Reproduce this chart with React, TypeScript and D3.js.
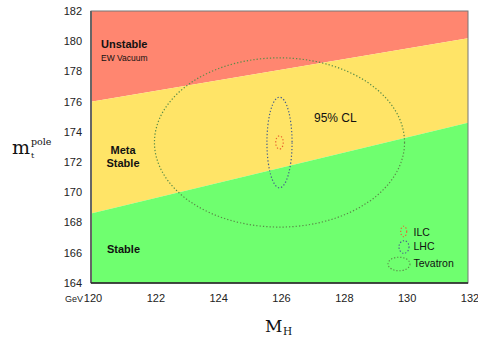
import React from 'react';
import * as d3 from 'd3';

const W = 478;
const H = 339;

// axis ticks
const xTicks = [120, 122, 124, 126, 128, 130, 132];
const yTicks = [164, 166, 168, 170, 172, 174, 176, 178, 180, 182];

// stability boundaries: top mass at MH = 120 and MH = 132
const unstableEdge = [176.0, 180.2];
const stableEdge = [168.6, 174.6];

// measurement ellipses: [MH centre, mt centre, MH half width, mt half height]
const ellipses = [
  { name: 'Tevatron', c: [126.0, 173.3], r: [3.98, 5.6], color: '#5a8c48' },
  { name: 'LHC', c: [126.0, 173.3], r: [0.4, 3.0], color: '#46608c' },
  { name: 'ILC', c: [126.0, 173.3], r: [0.12, 0.44], color: '#e8622e' }
];

const margin = { top: 11, right: 10, bottom: 56, left: 91 };

export default function App() {
  const x = d3.scaleLinear().domain([120, 132]).range([margin.left, W - margin.right]);
  const y = d3.scaleLinear().domain([164, 182]).range([H - margin.bottom, margin.top]);
  const line = d3.line<number[]>().x(d => x(d[0])).y(d => y(d[1]));

  const red = [[120, 182], [132, 182], [132, unstableEdge[1]], [120, unstableEdge[0]]];
  const yellow = [[120, unstableEdge[0]], [132, unstableEdge[1]], [132, stableEdge[1]], [120, stableEdge[0]]];
  const green = [[120, stableEdge[0]], [132, stableEdge[1]], [132, 164], [120, 164]];

  const font = 'Liberation Sans, Arial, sans-serif';
  // legend markers, placed in pixels beside the labels
  const legend = [
    { e: ellipses[2], cx: 403.7, cy: 231.5, rx: 3, ry: 5.3, ty: 232.7 },
    { e: ellipses[1], cx: 404, cy: 247, rx: 5, ry: 6.3, ty: 246.7 },
    { e: ellipses[0], cx: 399, cy: 264, rx: 11, ry: 6.8, ty: 263.7 }
  ];

  return (
    <svg width={W} height={H} style={{ position: 'absolute', left: 0, top: 0 }}>
      <rect width={W} height={H} fill="#fff" />
      <path d={line(red) + 'Z'} fill="#ff8670" />
      <path d={line(yellow) + 'Z'} fill="#ffe467" />
      <path d={line(green) + 'Z'} fill="#6fff6f" />

      {ellipses.map(e => (
        <ellipse key={e.name} cx={x(e.c[0])} cy={y(e.c[1])}
          rx={x(e.c[0] + e.r[0]) - x(e.c[0])} ry={y(e.c[1]) - y(e.c[1] + e.r[1])}
          fill="none" stroke={e.color} strokeWidth={1.2} strokeDasharray="1.3,2" />
      ))}

      <rect x={margin.left} y={margin.top} width={W - margin.left - margin.right}
        height={H - margin.top - margin.bottom} fill="none" stroke="#777" strokeWidth={1} />
      <line x1={margin.left} x2={margin.left} y1={margin.top} y2={H - margin.bottom} stroke="#666" strokeWidth={2} />
      <line x1={margin.left} x2={W - margin.right} y1={H - margin.bottom} y2={H - margin.bottom} stroke="#222" strokeWidth={1.5} />

      <g fontFamily={font} fontSize={11} fill="#222">
        {yTicks.map(t => (
          <text key={t} x={82} y={y(t)} dy="0.35em" textAnchor="end">{t}</text>
        ))}
        {xTicks.map(t => (
          <text key={t} x={x(t) + 2} y={302} textAnchor="middle">{t}</text>
        ))}
        <text x={83} y={302} textAnchor="end" fontSize={9}>GeV</text>
      </g>

      <g fontFamily={font} fill="#111">
        <text x={101} y={48} fontSize={11} fontWeight="bold">Unstable</text>
        <text x={101} y={61} fontSize={8.5}>EW Vacuum</text>
        <text x={123} y={154} fontSize={11} fontWeight="bold" textAnchor="middle">Meta</text>
        <text x={123} y={167} fontSize={11} fontWeight="bold" textAnchor="middle">Stable</text>
        <text x={107} y={253} fontSize={11} fontWeight="bold">Stable</text>
        <text x={314} y={122} fontSize={12}>95% CL</text>
      </g>

      {legend.map(l => (
        <g key={l.e.name}>
          <ellipse cx={l.cx} cy={l.cy} rx={l.rx} ry={l.ry}
            fill="none" stroke={l.e.color} strokeWidth={1.1} strokeDasharray="1.3,1.8" />
          <text x={413.5} y={l.ty} dy="0.35em" fontFamily={font} fontSize={10.5} fill="#111">{l.e.name}</text>
        </g>
      ))}

      <g fontFamily="DejaVu Serif, Liberation Serif, serif" fill="#111">
        <text x={12} y={154} fontSize={19}>m</text>
        <text x={31} y={145} fontSize={9.5}>pole</text>
        <text x={31} y={158} fontSize={8}>t</text>
        <text x={265} y={332} fontSize={17}>M</text>
        <text x={283} y={335} fontSize={10.5}>H</text>
      </g>
    </svg>
  );
}
